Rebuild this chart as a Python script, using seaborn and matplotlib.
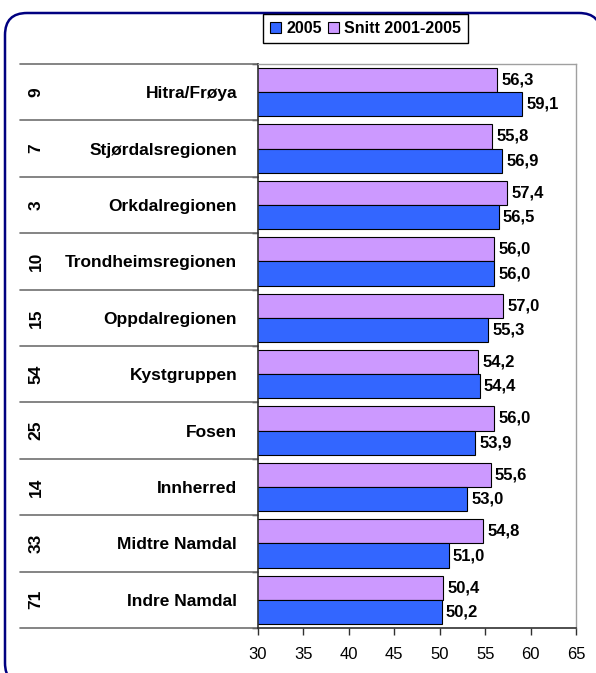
import numpy as np
import pandas as pd
import matplotlib.pyplot as plt
import seaborn as sns
from matplotlib.patches import FancyBboxPatch, Patch
from matplotlib.transforms import blended_transform_factory

regions = ["Hitra/Frøya", "Stjørdalsregionen", "Orkdalregionen", "Trondheimsregionen",
           "Oppdalregionen", "Kystgruppen", "Fosen", "Innherred", "Midtre Namdal", "Indre Namdal"]
ranks = ["9", "7", "3", "10", "15", "54", "25", "14", "33", "71"]
snitt = [56.3, 55.8, 57.4, 56.0, 57.0, 54.2, 56.0, 55.6, 54.8, 50.4]
y2005 = [59.1, 56.9, 56.5, 56.0, 55.3, 54.4, 53.9, 53.0, 51.0, 50.2]
series = ["Snitt 2001-2005", "2005"]
colors = {"2005": "#3366FF", "Snitt 2001-2005": "#CC99FF"}

df = pd.DataFrame({
    "region": regions * 2,
    "serie": [series[0]] * len(regions) + [series[1]] * len(regions),
    "verdi": snitt + y2005,
})

sns.set_theme(style="white")
plt.rcParams["font.family"] = ["Liberation Sans", "DejaVu Sans"]
plt.rcParams["text.color"] = "black"
plt.rcParams["xtick.color"] = "black"
plt.rcParams["ytick.color"] = "black"

W, H = 596, 673
fig = plt.figure(figsize=(W / 100, H / 100), dpi=100)

# rounded frame behind everything (runs off the right and bottom edge)
bg = fig.add_axes([0, 0, 1, 1])
bg.set_xlim(0, W)
bg.set_ylim(H, 0)
bg.axis("off")
bg.add_patch(FancyBboxPatch((5, 13), 596, 672, boxstyle="round,pad=0,rounding_size=22",
                            fc="white", ec="#000080", lw=1.8, clip_on=False))

ax = fig.add_axes([258 / W, 1 - 628 / H, (576 - 258) / W, (628 - 64) / H])
sns.barplot(data=df, x="verdi", y="region", hue="serie", hue_order=series,
            order=regions, palette=colors, orient="h", width=0.86, saturation=1,
            edgecolor="black", linewidth=0.8, legend=False, ax=ax)

for cont in ax.containers:
    labs = [f"{b.get_width():.1f}".replace(".", ",") for b in cont]
    ax.bar_label(cont, labels=labs, padding=3, fontsize=12, fontweight="bold")

ax.set_xlim(30, 65)
ax.set_ylim(len(regions) - 0.5, -0.5)
ax.set_xticks(np.arange(30, 66, 5))
ax.tick_params(axis="x", labelsize=12, length=5, width=1, color="#303030",
               direction="out", bottom=True, pad=9)
ax.set_yticks(range(len(regions)))
ax.set_yticklabels(regions, fontsize=12.5, fontweight="bold")
ax.tick_params(axis="y", length=0, pad=15)
ax.set_yticks(np.arange(-0.5, len(regions), 1), minor=True)
ax.tick_params(axis="y", which="minor", length=4, width=1, color="#303030", left=True)
ax.set_xlabel("")
ax.set_ylabel("")
for s in ["left", "bottom"]:
    ax.spines[s].set_color("#303030")
    ax.spines[s].set_linewidth(1.2)
for s in ["top", "right"]:
    ax.spines[s].set_color("#a0a0a0")
    ax.spines[s].set_linewidth(1.0)

# multi-level category axis: rank numbers and separator lines
tr = blended_transform_factory(fig.transFigure, ax.transData)
for i, r in enumerate(ranks):
    ax.text(36 / W, i, r, transform=tr, rotation=90, ha="center", va="center",
            fontsize=12.5, fontweight="bold", clip_on=False)
for i in range(len(regions) + 1):
    ax.plot([20 / W, 258 / W], [i - 0.5, i - 0.5], transform=tr, color="#707070",
            lw=1.2, clip_on=False)

handles = [Patch(fc=colors["2005"], ec="black", lw=0.8, label="2005"),
           Patch(fc=colors["Snitt 2001-2005"], ec="black", lw=0.8, label="Snitt 2001-2005")]
fig.legend(handles=handles, loc="upper left", bbox_to_anchor=(263 / W, 1 - 14 / H),
           ncol=2, fancybox=False, edgecolor="black", framealpha=1,
           prop={"size": 11.5, "weight": "bold"}, handlelength=0.7, handleheight=0.7,
           handletextpad=0.3, columnspacing=0.4, borderpad=0.45, borderaxespad=0)

fig.savefig("out.png", dpi=100)
